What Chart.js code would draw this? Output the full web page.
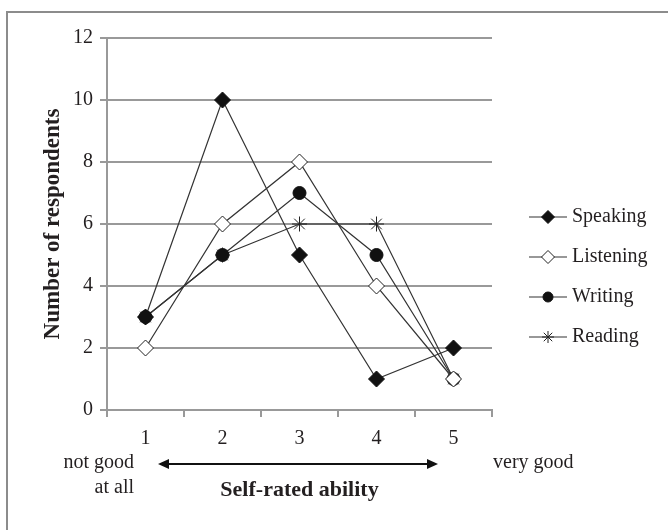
<!DOCTYPE html>
<html>
<head>
<meta charset="utf-8">
<script src="https://cdn.jsdelivr.net/npm/chart.js@4.4.0/dist/chart.umd.min.js"></script>
<style>
  html, body { margin: 0; padding: 0; background: #fff; }
</style>
</head>
<body>
<canvas id="abilityChart" width="668" height="530"></canvas>
<script>
// Chart data
const categories = ['1', '2', '3', '4', '5'];
const speaking = [3, 10, 5, 1, 2];
const listening = [2, 6, 8, 4, 1];
const writing = [3, 5, 7, 5, 1];
const reading = [3, 5, 6, 6, 1];
const seriesNames = ['Speaking', 'Listening', 'Writing', 'Reading'];

const SERIF = "'Liberation Serif', 'Times New Roman', serif";
const INK = '#231f20';
const GRID = '#999999';
const LINE = '#333333';

// marker styles per series
const markers = [
  { pointStyle: 'rectRot', radius: 8, fill: '#111', border: '#111' },
  { pointStyle: 'rectRot', radius: 8, fill: '#fff', border: '#222' },
  { pointStyle: 'circle', radius: 6.5, fill: '#111', border: '#111' },
  { pointStyle: 'star', radius: 7.5, fill: '#222', border: '#222' }
];

function makeDataset(label, data, m) {
  return {
    label: label,
    data: data,
    borderColor: LINE,
    borderWidth: 1.2,
    tension: 0,
    fill: false,
    pointStyle: m.pointStyle,
    pointRadius: m.radius,
    pointHoverRadius: m.radius,
    pointBackgroundColor: m.fill,
    pointBorderColor: m.border,
    pointBorderWidth: 1
  };
}

// frame, custom legend and the "not good / very good" annotation
const decorations = {
  id: 'decorations',
  beforeDraw(chart) {
    const ctx = chart.ctx;
    ctx.save();
    ctx.fillStyle = '#fff';
    ctx.fillRect(0, 0, chart.width, chart.height);
    ctx.strokeStyle = '#8c8c8c';
    ctx.lineWidth = 2;
    ctx.strokeRect(7, 12, 700, 600);
    ctx.restore();
  },
  afterDraw(chart) {
    const ctx = chart.ctx;
    ctx.save();

    // legend
    const legendY = [217, 257, 297, 337];
    chart.data.datasets.forEach((ds, i) => {
      const y = legendY[i];
      ctx.strokeStyle = LINE;
      ctx.lineWidth = 1.2;
      ctx.beginPath();
      ctx.moveTo(529, y);
      ctx.lineTo(567, y);
      ctx.stroke();
      ctx.fillStyle = markers[i].fill;
      ctx.strokeStyle = markers[i].border;
      ctx.lineWidth = 1;
      Chart.helpers.drawPoint(ctx, {
        pointStyle: markers[i].pointStyle,
        radius: markers[i].radius - 1.5,
        rotation: 0,
        borderWidth: 1
      }, 548, y);
      ctx.fillStyle = INK;
      ctx.font = '20px ' + SERIF;
      ctx.textAlign = 'left';
      ctx.textBaseline = 'middle';
      ctx.fillText(ds.label, 572, y);
    });

    // ends of the rating scale
    ctx.fillStyle = INK;
    ctx.font = '20px ' + SERIF;
    ctx.textBaseline = 'middle';
    ctx.textAlign = 'right';
    ctx.fillText('not good', 134, 463);
    ctx.fillText('at all', 134, 488);
    ctx.textAlign = 'left';
    ctx.fillText('very good', 493, 463);

    // double-headed arrow
    const ay = 464, ax1 = 158, ax2 = 438;
    ctx.strokeStyle = '#111';
    ctx.fillStyle = '#111';
    ctx.lineWidth = 2;
    ctx.beginPath();
    ctx.moveTo(ax1 + 8, ay);
    ctx.lineTo(ax2 - 8, ay);
    ctx.stroke();
    ctx.beginPath();
    ctx.moveTo(ax1, ay);
    ctx.lineTo(ax1 + 11, ay - 5);
    ctx.lineTo(ax1 + 11, ay + 5);
    ctx.closePath();
    ctx.fill();
    ctx.beginPath();
    ctx.moveTo(ax2, ay);
    ctx.lineTo(ax2 - 11, ay - 5);
    ctx.lineTo(ax2 - 11, ay + 5);
    ctx.closePath();
    ctx.fill();

    ctx.restore();
  }
};

const ctx = document.getElementById('abilityChart').getContext('2d');
new Chart(ctx, {
  type: 'line',
  data: {
    labels: categories,
    datasets: [
      makeDataset(seriesNames[0], speaking, markers[0]),
      makeDataset(seriesNames[1], listening, markers[1]),
      makeDataset(seriesNames[2], writing, markers[2]),
      makeDataset(seriesNames[3], reading, markers[3])
    ]
  },
  options: {
    responsive: false,
    animation: false,
    layout: {
      padding: { left: 0, right: 176, top: 38, bottom: 0 }
    },
    plugins: {
      legend: { display: false },
      title: { display: false },
      tooltip: { enabled: false }
    },
    scales: {
      x: {
        type: 'category',
        offset: true,
        grid: {
          offset: true,
          drawOnChartArea: false,
          drawTicks: true,
          tickLength: 7,
          color: GRID,
          lineWidth: 2
        },
        border: { display: true, color: GRID, width: 2 },
        ticks: {
          color: INK,
          padding: 10,
          font: { family: SERIF, size: 20 }
        },
        title: {
          display: true,
          text: 'Self-rated ability',
          color: INK,
          font: { family: SERIF, size: 22, weight: 'bold' },
          padding: { top: 0, bottom: 26 }
        },
        afterFit(scale) {
          scale.height = 120;
        }
      },
      y: {
        min: 0,
        max: 12,
        ticks: {
          stepSize: 2,
          color: INK,
          padding: 7,
          font: { family: SERIF, size: 20 }
        },
        grid: {
          color: GRID,
          lineWidth: 2,
          tickLength: 7
        },
        border: { display: true, color: GRID, width: 2 },
        title: {
          display: true,
          text: 'Number of respondents',
          color: INK,
          font: { family: SERIF, size: 23, weight: 'bold' },
          padding: { top: 39, bottom: 0 }
        },
        afterFit(scale) {
          scale.width = 107;
        }
      }
    }
  },
  plugins: [decorations]
});
</script>
</body>
</html>
